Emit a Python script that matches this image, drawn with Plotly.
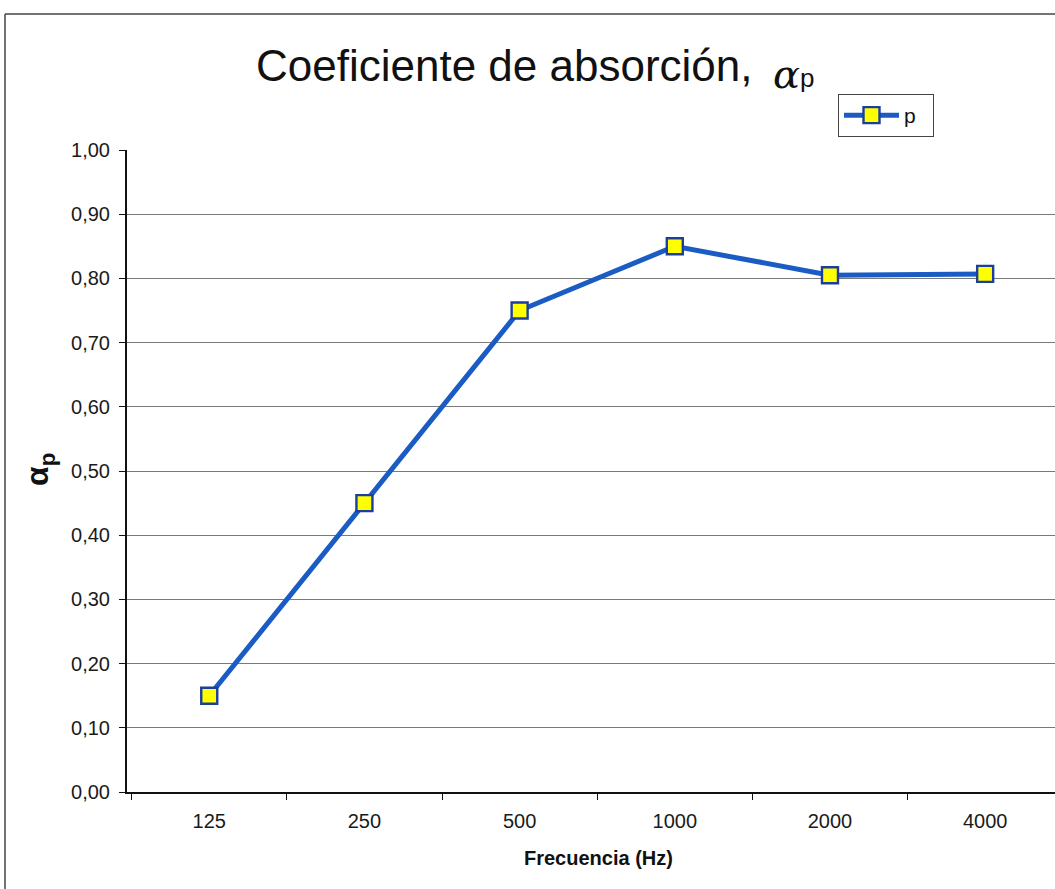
import plotly.graph_objects as go

# Data
frecuencias = ["125", "250", "500", "1000", "2000", "4000"]
alpha_p = [0.15, 0.45, 0.75, 0.85, 0.805, 0.807]
y_ticks = [0.0, 0.1, 0.2, 0.3, 0.4, 0.5, 0.6, 0.7, 0.8, 0.9, 1.0]

W, H = 1055, 889
L, R, T, B = 127, 0, 150, 97
PW = W - L - R
PH = H - T - B


def xp(px):
    return (px - L) / PW


def yp(py):
    return (H - B - py) / PH


fig = go.Figure()
fig.add_trace(go.Scatter(
    x=frecuencias, y=alpha_p, name="p" + "\u00a0" * 2, mode="lines+markers",
    line=dict(color="#1a5cc4", width=5),
    marker=dict(symbol="square", size=16, color="#ffff00",
                line=dict(color="#1c3f9e", width=2.4)),
))

fig.update_layout(
    width=W, height=H,
    margin=dict(l=L, r=R, t=T, b=B),
    paper_bgcolor="#ffffff", plot_bgcolor="#ffffff",
    separators=",.",
    font=dict(family="Arial, Liberation Sans, sans-serif", color="#1a1a1a"),
    showlegend=True,
    legend=dict(x=xp(838), y=yp(94), xanchor="left", yanchor="top",
                bordercolor="#444", borderwidth=1, bgcolor="#ffffff",
                font=dict(size=21, color="#111"),
                tracegroupgap=0, itemwidth=55),
    xaxis=dict(
        type="category", range=[-0.53, 5.45],
        showline=True, linecolor="#111", linewidth=2,
        ticks="outside", tickson="boundaries", ticklen=6, tickcolor="#111",
        showgrid=False, tickfont=dict(size=20, color="#1a1a1a"),
        ticklabelstandoff=10,
    ),
    yaxis=dict(
        range=[0, 1], tickvals=y_ticks, tickformat=".2f",
        showline=True, linecolor="#111", linewidth=2,
        ticks="outside", ticklen=6, tickcolor="#111",
        showgrid=True, gridcolor="#7a7a7a", gridwidth=1,
        zeroline=False, tickfont=dict(size=20, color="#1a1a1a"),
        ticklabelstandoff=5,
    ),
)

# Axis titles
fig.add_annotation(x=xp(598), y=yp(858), xref="paper", yref="paper",
                   xanchor="center", yanchor="middle", showarrow=False,
                   text="<b>Frecuencia (Hz)</b>",
                   font=dict(size=20, color="#111"))
fig.add_annotation(x=xp(39), y=yp(470), xref="paper", yref="paper",
                   xanchor="center", yanchor="middle", showarrow=False,
                   textangle=-90, text="<b>α<sub>p</sub></b>",
                   font=dict(size=32, color="#111"))

# Title
fig.add_annotation(x=xp(254), y=yp(66), xref="paper", yref="paper",
                   xanchor="left", yanchor="middle", showarrow=False,
                   text="Coeficiente de absorción,",
                   font=dict(size=44, color="#111"))
fig.add_annotation(x=xp(771), y=yp(74), xref="paper", yref="paper",
                   xanchor="left", yanchor="middle", showarrow=False,
                   text="<i>α</i>",
                   font=dict(size=40, color="#111",
                             family="DejaVu Serif, serif"))
fig.add_annotation(x=xp(798), y=yp(78), xref="paper", yref="paper",
                   xanchor="left", yanchor="middle", showarrow=False,
                   text="p",
                   font=dict(size=26, color="#111"))

# Outer chart border
fig.add_shape(type="line", xref="paper", yref="paper",
              x0=xp(5), x1=xp(W + 5), y0=yp(14), y1=yp(14),
              line=dict(color="#444", width=1.5))
fig.add_shape(type="line", xref="paper", yref="paper",
              x0=xp(5), x1=xp(5), y0=yp(14), y1=yp(H + 5),
              line=dict(color="#444", width=1.5))

fig.write_html("out.html",
               config={"displayModeBar": False},
               post_script="document.body.style.margin='0';"
                           "document.body.style.overflow='hidden';")
